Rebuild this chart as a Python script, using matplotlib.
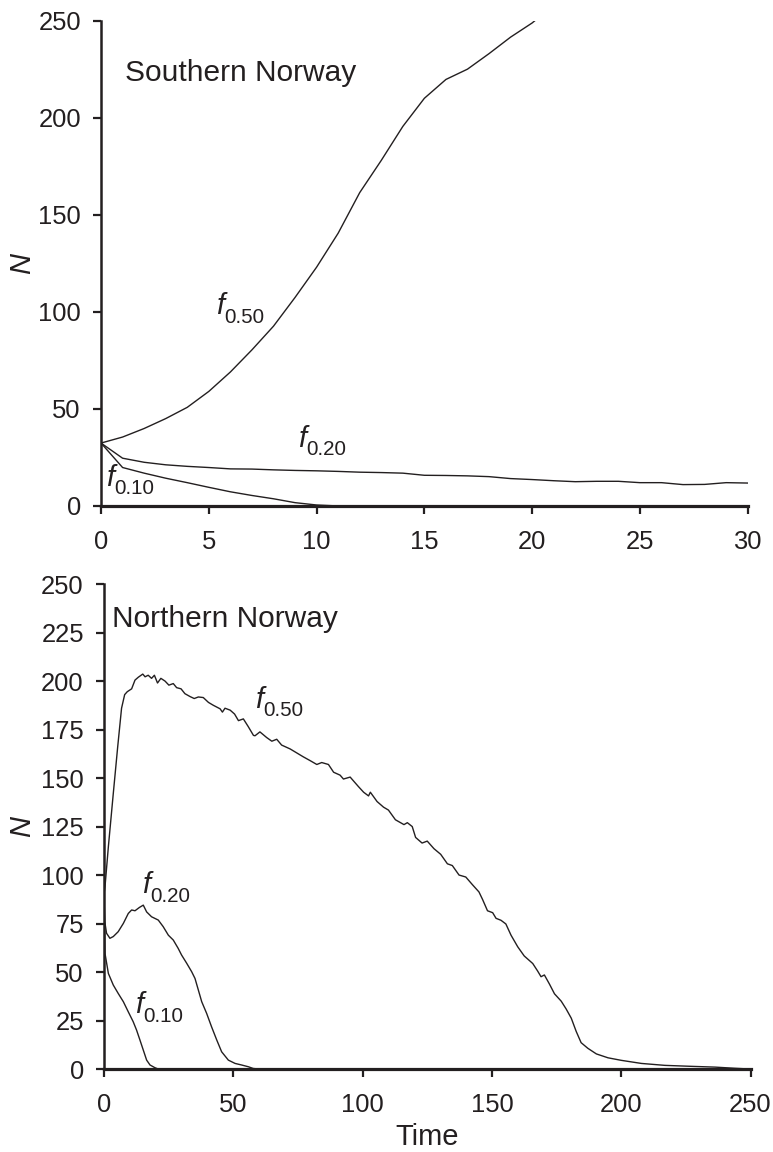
import matplotlib
matplotlib.use("Agg")
import matplotlib.pyplot as plt

plt.rcParams['font.family'] = ['Liberation Sans', 'DejaVu Sans']

INK = '#231f20'

# ---------------- Southern Norway (top panel) ----------------
south_t = list(range(0, 31))
south_f050_t = list(range(0, 22))
south_f050 = [32.4, 35.5, 39.9, 45.0, 50.8, 59.0, 69.0, 80.4, 92.6, 107.4, 123.0,
              140.5, 161.4, 178.0, 195.5, 210.0, 219.7, 225.0, 233.0, 241.5, 248.8, 258.0]
south_f020 = [32.4, 24.6, 22.5, 21.2, 20.4, 19.8, 19.1, 19.0, 18.6, 18.3, 18.1,
              17.8, 17.4, 17.2, 16.9, 15.8, 15.7, 15.5, 15.1, 14.1, 13.6,
              13.0, 12.5, 12.7, 12.7, 12.0, 12.0, 11.0, 11.1, 12.0, 11.8]
south_f010 = [32.4, 19.8, 16.9, 14.3, 12.0, 9.6, 7.3, 5.4, 3.7, 1.7, 0.5,
              0, 0, 0, 0, 0, 0, 0, 0, 0, 0, 0, 0, 0, 0, 0, 0, 0, 0, 0, 0]

# ---------------- Northern Norway (bottom panel) ----------------
north_f050_t = [0, 0.4, 1.7, 3.6, 5.3, 6.8, 8.0, 9.0, 10.7, 12.0, 13.3, 15.0, 15.9, 17.1,
                18.4, 19.5, 20.7, 22.0, 23.6, 25.1, 26.8, 28.1, 29.8, 31.3, 33.3, 34.9,
                36.5, 38.4, 40.4, 42.3, 43.6, 44.9, 45.8, 46.8, 48.8, 50.5, 52.0, 53.9,
                55.8, 57.8, 58.4, 60.3, 62.9, 64.9, 66.8, 68.7, 72.0, 74.5, 77.0, 79.7,
                82.3, 84.2, 86.8, 88.8, 91.3, 92.6, 95.2, 96.5, 98.4, 100.4, 102.3, 103.0,
                105.6, 108.1, 110.0, 112.7, 116.0, 117.3, 119.2, 120.5, 123.0, 125.0,
                127.6, 130.2, 132.8, 134.7, 137.3, 139.9, 142.5, 145.0, 146.4, 148.3,
                150.3, 151.6, 153.5, 155.4, 157.4, 160.0, 162.5, 165.8, 167.7, 169.0,
                170.3, 172.3, 174.2, 176.8, 178.7, 180.7, 182.6, 184.5, 187.1, 190.4,
                194.9, 200.0, 207.8, 216.9, 227.2, 236.3, 244.0, 250.0]
north_f050 = [90, 94, 114.6, 142, 166, 186, 193, 194.5, 196, 200.5, 202, 203.6, 202.2, 203,
              201.4, 203, 199, 201.4, 200, 197.9, 198.7, 196.6, 196, 193.5, 192, 191,
              191.8, 191.5, 189, 187.5, 186.6, 185.7, 184, 186, 185, 183, 179.6, 180.5,
              176.5, 172, 171.8, 173.8, 170.9, 169, 170, 167, 165, 163, 161, 159,
              157, 158, 157, 153, 151.5, 149.5, 150.5, 148.5, 145.6, 142.7, 140.8, 142.7,
              137.9, 135, 133.5, 128.5, 126, 127, 125, 119.4, 116.5, 117.5,
              113.6, 110.7, 105.8, 104.9, 100, 99, 95, 91.3, 87.4, 81.6,
              80.6, 77.7, 76.7, 74.8, 69, 63, 58.3, 54.4, 50.5, 47.6,
              48.5, 43.7, 38.8, 35, 31, 26.2, 19.4, 13.6, 10.7, 7.8,
              5.8, 4.5, 2.9, 1.9, 1.4, 1.0, 0.4, 0]

north_f020_t = [0, 0.3, 1.0, 2.3, 3.6, 5.5, 7.5, 9.4, 10.7, 12.0, 13.7, 15.2, 16.5, 18.4,
                21.0, 22.9, 24.9, 26.8, 28.7, 30.0, 32.0, 33.9, 35.2, 36.5, 37.8, 39.7,
                41.6, 43.6, 45.5, 48.1, 50.7, 53.2, 55.8, 57.7, 60.0, 250.0]
north_f020 = [90, 76, 70, 67.4, 68.3, 70.8, 75.1, 80.2, 82, 81.6, 83.3, 84.5, 81, 78.5,
              76.8, 73.4, 69, 66.5, 62.2, 58.8, 54.5, 50.2, 46.7, 40.7, 34.7, 28.7,
              21.8, 15, 8.9, 4.6, 2.9, 2.1, 1.2, 0.3, 0, 0]

north_f010_t = [0, 0.4, 1.7, 3.6, 5.5, 7.5, 9.4, 11.3, 12.6, 13.9, 15.2, 16.5, 17.8,
                19.7, 21.0, 250.0]
north_f010 = [90, 59.6, 49.3, 43.3, 39, 34.7, 29.5, 24.4, 20.1, 15, 9.8, 4.6, 2.1,
              0.7, 0, 0]

south_ticks_x = [0, 5, 10, 15, 20, 25, 30]
south_ticks_y = [0, 50, 100, 150, 200, 250]
north_ticks_x = [0, 50, 100, 150, 200, 250]
north_ticks_y = [0, 25, 50, 75, 100, 125, 150, 175, 200, 225, 250]

curve_subscripts = ['0.50', '0.20', '0.10']

TICK_FS = 18.4
TITLE_FS = 21.5
LAB_FS = 21
F_FS = 21
SUB_FS = 14.8

fig = plt.figure(figsize=(7.73, 11.52), dpi=100)
ax1 = fig.add_axes([0.1307, 0.5608, 0.8366, 0.4213])
ax2 = fig.add_axes([0.1345, 0.0720, 0.8364, 0.4210])


def style(ax):
    for s in ('top', 'right'):
        ax.spines[s].set_visible(False)
    ax.spines['left'].set_linewidth(1.8)
    ax.spines['bottom'].set_linewidth(2.3)
    ax.spines['left'].set_color(INK)
    ax.spines['bottom'].set_color(INK)
    ax.tick_params(axis='both', direction='out', length=5.5, width=1.6,
                   color=INK, labelcolor=INK, labelsize=TICK_FS)
    ax.tick_params(axis='x', pad=12)
    ax.tick_params(axis='y', pad=9)


def f_label(ax, x, y, sub):
    ax.text(x, y, 'f', fontsize=F_FS, style='italic', color=INK,
            ha='left', va='baseline')
    ax.annotate(sub, xy=(x, y), xytext=(6.0, -6.0), textcoords='offset points',
                fontsize=SUB_FS, color=INK, ha='left', va='baseline')


lw = 1.0
# top
ax1.plot(south_f050_t, south_f050, color=INK, lw=lw)
ax1.plot(south_t, south_f020, color=INK, lw=lw)
ax1.plot(south_t, south_f010, color=INK, lw=lw)
ax1.set_xlim(0, 30)
ax1.set_ylim(0, 250)
ax1.set_xticks(south_ticks_x)
ax1.set_yticks(south_ticks_y)
style(ax1)
ax1.text(1.11, 219, 'Southern Norway', fontsize=TITLE_FS, color=INK,
         ha='left', va='baseline')
f_label(ax1, 5.33, 98.7, curve_subscripts[0])
f_label(ax1, 9.15, 30.5, curve_subscripts[1])
f_label(ax1, 0.23, 10.4, curve_subscripts[2])
ax1.text(-0.122, 0.5, 'N', fontsize=LAB_FS, style='italic', color=INK,
         rotation=90, ha='center', va='center', transform=ax1.transAxes)

# bottom
ax2.plot(north_f050_t, north_f050, color=INK, lw=lw)
ax2.plot(north_f020_t, north_f020, color=INK, lw=lw)
ax2.plot(north_f010_t, north_f010, color=INK, lw=lw)
ax2.set_xlim(0, 250)
ax2.set_ylim(0, 250)
ax2.set_xticks(north_ticks_x)
ax2.set_yticks(north_ticks_y)
style(ax2)
ax2.text(3.0, 228, 'Northern Norway', fontsize=TITLE_FS, color=INK,
         ha='left', va='baseline')
f_label(ax2, 58.4, 186.2, curve_subscripts[0])
f_label(ax2, 14.6, 90.6, curve_subscripts[1])
f_label(ax2, 12.0, 28.7, curve_subscripts[2])
ax2.text(-0.127, 0.5, 'N', fontsize=LAB_FS, style='italic', color=INK,
         rotation=90, ha='center', va='center', transform=ax2.transAxes)
ax2.text(0.5, -0.14, 'Time', fontsize=LAB_FS, color=INK,
         ha='center', va='center', transform=ax2.transAxes)

fig.savefig('out.png', dpi=100)
